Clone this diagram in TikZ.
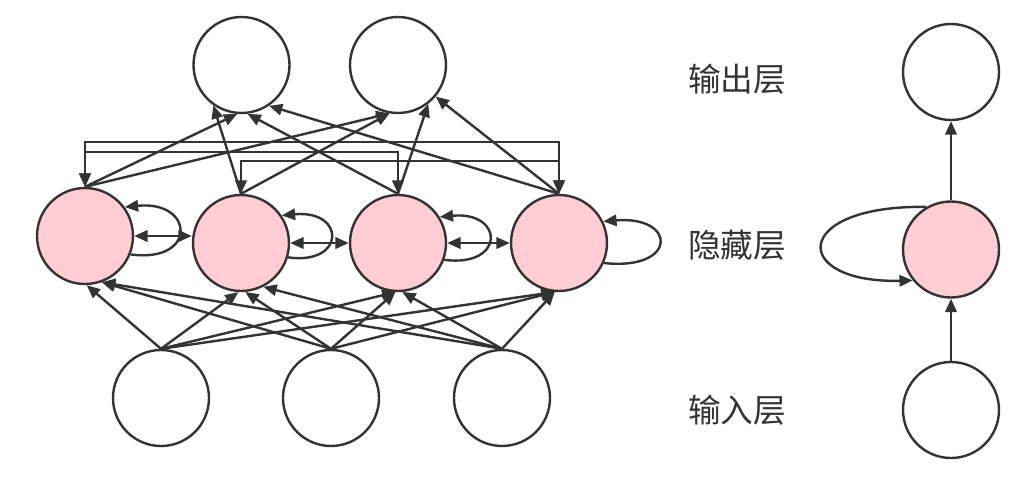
\documentclass[tikz,border=0pt]{standalone}
\usepackage{fontspec}
\newfontfamily\cjk{Noto Sans CJK SC}
\usetikzlibrary{arrows.meta}
\definecolor{ink}{HTML}{333333}
\definecolor{hidpink}{RGB}{255,205,211}
\begin{document}
\begin{tikzpicture}[x=0.75pt, y=-0.75pt, line width=1.8pt, color=ink,
    neuron/.style={circle, draw=ink, fill=white, minimum size=72pt, inner sep=0pt},
    hidden/.style={neuron, fill=hidpink},
    arr/.style={-{Triangle[length=10pt, width=8.5pt]}},
    both/.style={{Triangle[length=10pt, width=8.5pt]}-{Triangle[length=10pt, width=8.5pt]}},
    layer/.style={font={\cjk\fontsize{24.5}{28}\selectfont}, text=ink}]
  \useasboundingbox (0,0) rectangle (1020,489);
  % unrolled network
  \node[neuron] (O1) at (241.5,65) {};
  \node[neuron] (O2) at (398,65) {};
  \node[hidden] (H1) at (85,236) {};
  \node[hidden] (H2) at (241,243) {};
  \node[hidden] (H3) at (398,243) {};
  \node[hidden] (H4) at (559,243) {};
  \node[neuron] (I1) at (161,398) {};
  \node[neuron] (I2) at (331,398) {};
  \node[neuron] (I3) at (502,398) {};
  % input to hidden
  \draw[arr] (I1.north) -- (H1.-88);
  \draw[arr] (I1.north) -- (H2.-93);
  \draw[arr] (I1.north) -- (H3.-93);
  \draw[arr] (I1.north) -- (H4.-95);
  \draw[arr] (I2.north) -- (H1.-70);
  \draw[arr] (I2.north) -- (H2.-85);
  \draw[arr] (I2.north) -- (H3.-93);
  \draw[arr] (I2.north) -- (H4.-95);
  \draw[arr] (I3.north) -- (H1.-70);
  \draw[arr] (I3.north) -- (H2.-63);
  \draw[arr] (I3.north) -- (H3.-85);
  \draw[arr] (I3.north) -- (H4.-95);
  % hidden to output
  \draw[arr] (H1.north) -- (O1.-95);
  \draw[arr] (H2.north) -- (O1.-125);
  \draw[arr] (H3.north) -- (O1.-83);
  \draw[arr] (H4.north) -- (O1.-56);
  \draw[arr] (H1.north) -- (O2.-100);
  \draw[arr] (H2.north) -- (O2.-100);
  \draw[arr] (H3.north) -- (O2.-52);
  \draw[arr] (H4.north) -- (O2.-40);
  % links between hidden units
  \draw[both] (H1.north) -- ++(0,-45) -| (H4.north);
  \draw[both] (H1.north) -- ++(0,-35) -| (H3.north);
  \draw[both] (H2.north) -- ++(0,-33) -| (H4.north);
  \draw[both] (H1.east) -- (H1.east -| H2.west);
  \draw[both] (H2.east) -- (H3.west);
  \draw[both] (H3.east) -- (H4.west);
  % self loops
  \draw[arr] (H1.-22) .. controls +(67,9) and +(70,-7) .. (H1.36);
  \draw[arr] (H2.-17) .. controls +(58,8) and +(64,-6) .. (H2.34);
  \draw[arr] (H3.-20) .. controls +(61,8) and +(65,-6) .. (H3.32);
  \draw[arr] (H4.-24) .. controls +(74,8) and +(74,-6) .. (H4.26);
  % layer names
  \node[layer] (lo) at (737,79) {输出层};
  \node[layer] (lh) at (737,245) {隐藏层};
  \node[layer] (li) at (737,410) {输入层};
  % folded network
  \node[neuron] (Or) at (951,72) {};
  \node[hidden] (Hr) at (951,249.5) {};
  \node[neuron] (Ir) at (951,410) {};
  \draw[arr] (Ir.north) -- (Hr.south);
  \draw[arr] (Hr.north) -- (Or.south);
  \draw[arr] (Hr.120) .. controls +(-136,-2) and +(-123,3) .. (Hr.-141);
\end{tikzpicture}
\end{document}
